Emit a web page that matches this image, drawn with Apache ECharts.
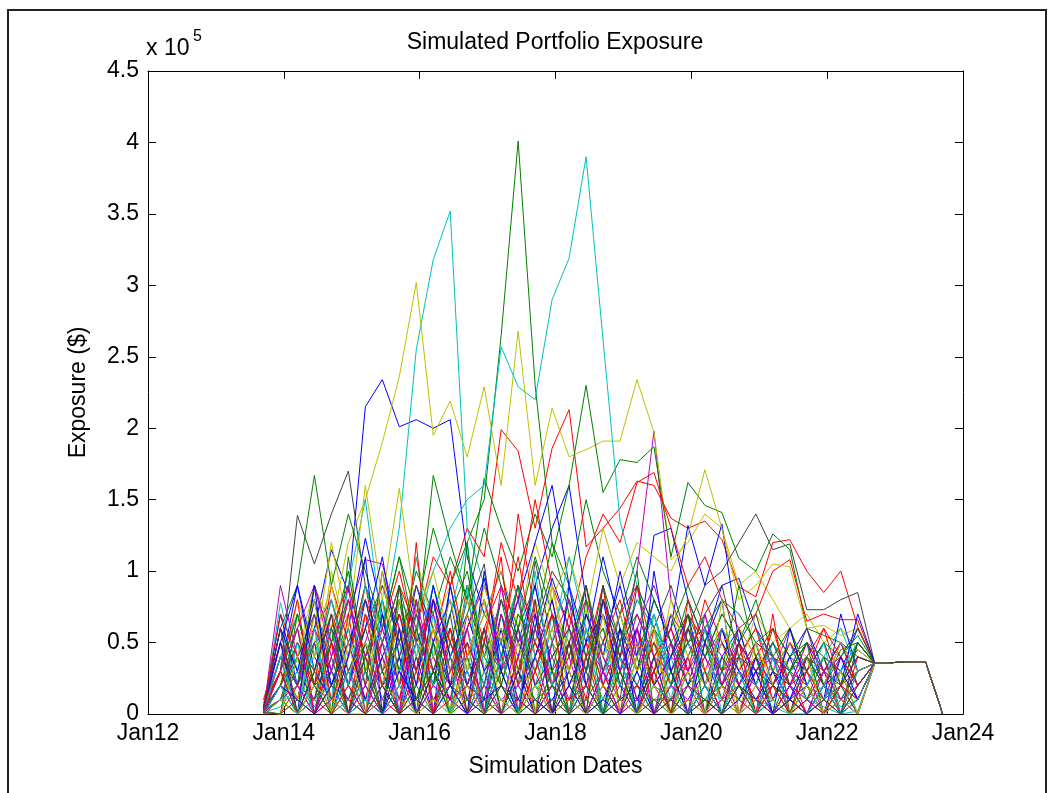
<!DOCTYPE html>
<html>
<head>
<meta charset="utf-8">
<title>Simulated Portfolio Exposure</title>
<script src="https://cdn.jsdelivr.net/npm/echarts/dist/echarts.min.js"></script>
<style>
  html, body { margin: 0; padding: 0; background: #fff; }
  #chart { width: 1052px; height: 793px; }
</style>
</head>
<body>
<div id="chart"></div>
<script>
// simulation dates as decimal years (quarterly)
const dateYears = [
  2013.70, 2013.95, 2014.20, 2014.45, 2014.70, 2014.95, 2015.20, 2015.45, 2015.70, 2015.95,
  2016.20, 2016.45, 2016.70, 2016.95, 2017.20, 2017.45, 2017.70, 2017.95, 2018.20, 2018.45,
  2018.70, 2018.95, 2019.20, 2019.45, 2019.70, 2019.95, 2020.20, 2020.45, 2020.70, 2020.95,
  2021.20, 2021.45, 2021.70, 2021.95, 2022.20, 2022.45, 2022.70, 2022.95, 2023.20, 2023.45,
  2023.70
]
const xTickYears = [2012, 2014, 2016, 2018, 2020, 2022, 2024]
const yTicks = [0, 0.5, 1, 1.5, 2, 2.5, 3, 3.5, 4, 4.5]

// exposure per scenario in units of 1e5 $ (first 36 dates)
const s01 = [0.02, 0.4, 0.1, 0.6, 1.15, 0.85, 2.15, 2.34, 2.01, 2.06, 2.0, 2.06, 1.1, 0.7, 1.0, 0.5, 0.9, 1.3, 1.6, 0.8, 0.5, 0.9, 0.4, 1.25, 1.3, 0.8, 0.5, 0.9, 0.95, 0.6, 0.4, 0.3, 0.5, 0.2, 0.3, 0.6]
const s02 = [0.03, 0.2, 0.5, 0.3, 0.8, 0.4, 0.9, 0.6, 1.1, 0.7, 1.3, 0.9, 1.2, 1.5, 2.65, 4.01, 2.3, 1.2, 0.9, 1.5, 1.0, 0.7, 1.1, 0.8, 0.5, 0.7, 0.4, 0.6, 0.3, 0.5, 0.4, 0.3, 0.5, 0.4, 0.3, 0.45]
const s03 = [0.03, 0.2, 0.5, 0.3, 0.7, 0.4, 0.8, 0.5, 0.9, 0.6, 1.1, 0.9, 1.3, 1.1, 1.99, 1.84, 1.3, 1.86, 2.13, 1.17, 1.3, 1.44, 1.63, 1.6, 1.37, 1.3, 1.35, 1.22, 0.89, 0.82, 1.2, 1.22, 1.0, 0.85, 1.0, 0.61]
const s04 = [0.02, 0.3, 0.1, 0.5, 0.2, 0.4, 0.9, 0.6, 1.3, 2.55, 3.18, 3.52, 1.3, 0.9, 0.5, 0.8, 0.3, 0.6, 0.2, 0.4, 0.1, 0.3, 0, 0.2, 0.1, 0, 0.2, 0.1, 0, 0.1, 0.05, 0, 0.1, 0.05, 0, 0.02]
const s05 = [0.01, 0.5, 0.2, 0.9, 0.4, 0.7, 1.08, 1.05, 0.6, 0.3, 0.8, 0.5, 0.2, 0.6, 0.3, 0.9, 0.5, 0.2, 0.4, 0.7, 0.3, 0.4, 1.0, 1.98, 0.8, 0.5, 0.3, 0.6, 0.2, 0.4, 0.1, 0.3, 0.2, 0.1, 0.4, 0.2]
const s06 = [0.01, 0.1, 0.4, 0.9, 0.6, 1.2, 1.5, 1.9, 2.36, 3.02, 1.95, 2.19, 1.8, 2.29, 1.6, 2.68, 1.6, 2.14, 1.8, 1.85, 1.91, 1.91, 2.34, 1.97, 1.08, 1.2, 1.4, 1.3, 0.9, 1.0, 0.8, 0.6, 0.7, 0.5, 0.6, 0.45]
const s07 = [0.02, 0.3, 1.39, 1.05, 1.4, 1.70, 0.9, 0.5, 0.8, 0.3, 0.6, 0.2, 0.4, 0.7, 0.5, 0.9, 0.6, 1.0, 0.8, 0.4, 0.6, 0.3, 0.5, 0.2, 0.4, 0.6, 0.9, 1.0, 1.2, 1.4, 1.15, 1.19, 0.73, 0.73, 0.8, 0.85]
const s08 = [0.01, 0.7, 0.2, 0.1, 0.5, 0.2, 0.8, 0.3, 0, 0.6, 0.2, 0.9, 0.4, 0.1, 0.7, 0.2, 0.5, 0.95, 0.6, 0.3, 0.8, 0.5, 0.1, 0.4, 0.6, 1.32, 0.9, 1.33, 0.5, 0.3, 0.2, 0.4, 0.1, 0.3, 0.5, 0.2]
const s09 = [0.01, 0.1, 0.3, 0.1, 0.5, 0.2, 0.6, 0.9, 0.5, 1.0, 0.7, 1.1, 0.8, 1.65, 1.3, 1.0, 1.4, 1.1, 1.6, 2.3, 1.55, 1.78, 1.76, 1.87, 1.1, 1.62, 1.46, 1.41, 1.09, 1.0, 1.26, 1.15, 0.6, 0.55, 0.5, 0.4]
const s10 = [0.05, 0.4, 0.1, 0.6, 0.3, 0.8, 0.2, 0.5, 0.1, 0.7, 0.4, 0.2, 0.9, 0.5, 1.2, 0.8, 1.5, 0.9, 0.6, 1.1, 1.4, 1.2, 1.62, 1.69, 1.3, 0.9, 1.1, 0.8, 0.6, 0.7, 1.0, 1.08, 0.65, 0.7, 0.66, 0.66]
const s11 = [0.01, 0.05, 0.2, 0.05, 0.3, 0.1, 0.5, 0.3, 0.8, 0.6, 1.0, 1.3, 1.5, 1.6, 2.57, 2.29, 2.2, 2.9, 3.19, 3.9, 2.62, 1.35, 0.9, 0.6, 0.3, 0.5, 0.2, 0.4, 0.2, 0.1, 0.3, 0.2, 0.1, 0.2, 0.05, 0.1]
const s12 = [0.02, 0.6, 0.3, 0.1, 0.7, 0.2, 0.5, 0.1, 0.4, 0.8, 0.3, 0.6, 0.1, 0.5, 0.2, 0, 0.4, 0.7, 0.3, 0.9, 0.2, 0.5, 0.1, 0.3, 0.6, 0.2, 0.4, 0.1, 0.5, 0.3, 0.2, 0.1, 0.3, 0.5, 0.2, 0.4]
const s13 = [0.01, 0.2, 0.6, 0.2, 1.0, 0.5, 0.3, 0.8, 0.4, 1.1, 0.6, 0.9, 0.4, 0.7, 1.0, 0.6, 1.2, 0.8, 1.1, 0.7, 1.3, 0.9, 1.2, 1.1, 1.0, 1.25, 1.71, 1.3, 0.8, 0.9, 1.05, 1.03, 0.6, 0.62, 0.55, 0.6]
const s14 = [0.03, 0.1, 0.5, 0.2, 0.3, 0.1, 0.4, 0.7, 0.2, 0.5, 0.1, 0.3, 0.8, 0.4, 0.6, 0.2, 1.07, 0.5, 0.3, 0.7, 0.4, 0.1, 0.9, 0.6, 0.2, 0.4, 0.7, 0.3, 0.5, 0.2, 0.6, 0.4, 0.3, 0.1, 0.2, 0.5]
const s15 = [0.05, 0.3, 0.9, 0.4, 0.2, 0.6, 1.23, 0.7, 0.3, 0.9, 0.5, 0.2, 0.6, 0.95, 0.4, 0.8, 1.2, 1.6, 0.9, 0.5, 1.1, 0.6, 0.3, 0.8, 0.5, 0.2, 0.6, 0.3, 0.1, 0.4, 0.2, 0.5, 0.3, 0.1, 0.7, 0.3]
const s16 = [0.05, 0.6, 0.9, 1.67, 0.9, 1.4, 1.0, 0.6, 1.1, 0.5, 1.67, 1.2, 0.8, 1.3, 0.9, 0.6, 1.1, 0.7, 0.5, 0.9, 0.4, 0.7, 0.3, 0.6, 0.4, 0.8, 0.5, 0.3, 0.6, 0.2, 0.5, 0.3, 0.4, 0.2, 0.45, 0.5]
const s17 = [0.1, 0.5, 0.2, 0.7, 0.1, 0.4, 0.9, 0.3, 0.6, 0.1, 0.5, 1.0, 0.4, 0.8, 0.3, 1.4, 0.7, 0.2, 0.5, 0.1, 0.8, 0.4, 0.6, 0.3, 0.7, 0.5, 0.2, 0.6, 0.3, 0.5, 0.1, 0.3, 0.4, 0.6, 0.2, 0.3]
const s18 = [0.02, 0.78, 0.3, 0.5, 0.1, 0.9, 1.5, 0.6, 0.2, 1.1, 0.4, 0.7, 1.2, 0.3, 0.8, 0.5, 0.2, 0.6, 0.9, 0.4, 0.2, 0.7, 0.3, 0.5, 0.1, 0.6, 0.3, 0.2, 0.5, 0.3, 0.4, 0.1, 0.2, 0.4, 0.3, 0.5]
const s19 = [0.02, 0.9, 0.4, 0.6, 0.8, 0.3, 0.5, 0.9, 0.6, 0.2, 0.4, 0.1, 0.7, 0.3, 0.5, 0.8, 0.2, 0.4, 0.1, 0.5, 0.3, 0.7, 0.9, 0.2, 0.4, 0.3, 0.5, 0.2, 0.6, 0.4, 0.3, 0.6, 0.2, 0.4, 0.3, 0.1]
const s20 = [0.01, 0.2, 0.8, 0.4, 1.2, 0.6, 1.6, 0.8, 1.58, 0.7, 1.0, 0.5, 0.8, 0.3, 0.6, 0.2, 0.5, 0.9, 0.4, 0.8, 0.5, 0.3, 0.7, 0.4, 0.2, 0.6, 0.3, 0.5, 0.2, 0.4, 0.6, 0.3, 0.1, 0.3, 0.4, 0.2]
const s21 = [0.02, 0.4, 0.2, 0.8, 0.3, 0.6, 0.2, 1.0, 0.5, 0.3, 0.9, 0.4, 0.7, 1.05, 0.2, 0.6, 0.9, 0.3, 0.5, 0.2, 0.7, 0.4, 0.8, 0.6, 0.9, 0.5, 0.7, 0.9, 0.4, 0.6, 0.3, 0.5, 0.2, 0.4, 0.1, 0.3]
const s22 = [0, 0.3, 0, 0.5, 0, 0.2, 0, 0.7, 0, 0.4, 0, 0.9, 0.3, 0, 0.6, 0, 0.2, 0, 0.5, 0, 0.8, 0.2, 0, 0.4, 0, 0.3, 0, 0.6, 0.2, 0, 0.4, 0, 0.2, 0, 0.3, 0]
const s23 = [0.01, 0, 0.4, 0, 0.6, 0, 0.3, 0, 0.8, 0.1, 0.5, 0, 0.4, 0, 0.7, 0.3, 0, 0.5, 0, 0.6, 0.2, 0, 0.4, 0, 0.3, 0, 0.5, 0.1, 0, 0.3, 0.2, 0, 0.1, 0.4, 0, 0.2]
const s24 = [0.04, 0.6, 0, 0.3, 0, 0.7, 0, 0.4, 0, 0.2, 0.6, 0, 0.5, 0, 0.3, 0, 0.8, 0, 0.2, 0.5, 0, 0.3, 0, 0.6, 0, 0.4, 0, 0.2, 0.5, 0, 0.1, 0.3, 0, 0.2, 0, 0.4]
const s25 = [0.01, 0, 0.5, 0, 0.3, 0.6, 0, 0.2, 0.5, 0, 0.7, 0, 0.3, 0.5, 0, 0.2, 0, 0.7, 0, 0.3, 0, 0.5, 0.2, 0, 0.4, 0, 0.3, 0, 0.2, 0.5, 0, 0.2, 0.4, 0, 0.1, 0]
const s26 = [0, 0.4, 0, 0.2, 0.5, 0, 0.3, 0, 0.6, 0, 0.2, 0.4, 0, 0.3, 0, 0.6, 0, 0.2, 0.4, 0, 0.3, 0, 0.5, 0, 0.2, 0.4, 0, 0.3, 0, 0.2, 0, 0.1, 0.3, 0, 0.2, 0.1]
const s27 = [0.02, 0.5, 0, 0.7, 0.2, 0, 0.4, 0, 0.3, 0.6, 0, 0.3, 0, 0.6, 0.2, 0, 0.4, 0, 0.6, 0, 0.2, 0, 0.3, 0.5, 0, 0.2, 0, 0.4, 0, 0.3, 0.1, 0, 0.3, 0.1, 0, 0.2]
const s28 = [0, 0.2, 0.6, 0, 0.4, 0, 0.5, 0, 0.2, 0.8, 0, 0.5, 0.2, 0, 0.4, 0, 0.6, 0.2, 0, 0.4, 0, 0.6, 0, 0.3, 0.5, 0, 0.2, 0, 0.4, 0, 0.3, 0.2, 0, 0.1, 0.3, 0]
const s29 = [0.02, 0.5, 0.9, 0.3, 0.7, 0.2, 0.6, 1.1, 0.4, 0, 0.5, 0.8, 0.2, 0.6, 0, 0.4, 0.9, 0.3, 0, 0.7, 0.4, 1.0, 0.5, 0.2, 0.7, 0.3, 0, 0.4, 0.6, 0.2, 0.1, 0.4, 0.6, 0.3, 0.2, 0.7]
const s30 = [0.03, 0.4, 0.2, 0.9, 0.5, 1.0, 0.3, 0.5, 0.9, 0.4, 0.2, 0.7, 1.0, 0.4, 0.8, 0.3, 0.6, 1.2, 0.7, 0.3, 0.9, 0.5, 0.7, 0.4, 0.6, 0.9, 0.6, 0.8, 0.7, 0.5, 0.6, 0.4, 0.5, 0.3, 0.2, 0.5]
const s31 = [0.06, 0.3, 0.7, 0.2, 0.9, 0.5, 0.1, 0.6, 1.0, 0.5, 0.3, 0.1, 0.6, 0.9, 0.5, 1.1, 0.4, 0.8, 0.3, 0.6, 0.2, 0.5, 0.9, 0.4, 0.6, 0.3, 0.8, 0.5, 0.2, 0.4, 0.6, 0.2, 0.4, 0.3, 0.5, 0.2]
const s32 = [0.03, 0.6, 0.2, 0.4, 0.8, 0.3, 0.5, 0.2, 0.7, 0.4, 0.9, 0.5, 0.3, 0.8, 0.4, 0.6, 0.3, 0.5, 1.1, 0.6, 0.3, 0.5, 0.8, 0.6, 0.2, 0.5, 0.7, 0.3, 0.4, 0.6, 0.3, 0.5, 0.2, 0.4, 0.6, 0.3]
const s33 = [0.01, 0.3, 0.6, 0.9, 0.5, 0.2, 0.7, 0.4, 0.1, 0.5, 0.8, 0.3, 0.5, 0.2, 0.7, 0.4, 0.6, 0.2, 0.5, 0.8, 0.4, 0.2, 0.6, 0.9, 0.5, 0.3, 0.6, 0.4, 0.2, 0.5, 0.4, 0.2, 0.5, 0.3, 0.4, 0.2]
const s34 = [0.02, 0.4, 0.1, 0.5, 0.9, 0.4, 0.7, 0.3, 0.6, 0.2, 0.4, 0.8, 0.3, 0.9, 0.5, 0.7, 0.3, 0.6, 0.2, 0.4, 0.6, 0.3, 0.5, 0.2, 0.8, 0.4, 0.6, 0.2, 0.3, 0.7, 0.5, 0.6, 0.3, 0.5, 0.2, 0.4]
const s35 = [0.04, 0.2, 0.4, 0.7, 0.2, 0.5, 0.8, 0.3, 0.5, 0.9, 0.6, 0.3, 0.5, 0.2, 0.8, 0.5, 0.3, 0.7, 0.4, 0.9, 0.3, 0.6, 0.4, 0.7, 0.3, 0.6, 0.4, 0.7, 0.5, 0.3, 0.5, 0.3, 0.6, 0.2, 0.4, 0.6]
const s36 = [0, 0.1, 0, 0.3, 0.1, 0, 0.2, 0, 0.4, 0, 0.3, 0.1, 0, 0.2, 0, 0.3, 0, 0.1, 0.3, 0, 0.1, 0.4, 0, 0.2, 0, 0.1, 0.3, 0, 0.2, 0.1, 0, 0.2, 0, 0.1, 0.3, 0.1]
const s37 = [0.01, 0.2, 0, 0.1, 0.3, 0, 0.1, 0.3, 0, 0.2, 0, 0.4, 0.1, 0, 0.3, 0, 0.2, 0, 0.1, 0.3, 0, 0.2, 0.1, 0, 0.3, 0, 0.1, 0.2, 0, 0.1, 0.2, 0.1, 0, 0.2, 0.1, 0.3]
const s38 = [0, 0, 0.2, 0, 0.1, 0.3, 0, 0.2, 0, 0.1, 0.3, 0, 0.2, 0.1, 0, 0.4, 0, 0.2, 0, 0.1, 0.3, 0, 0.2, 0.1, 0.1, 0.3, 0, 0.1, 0.2, 0, 0.2, 0, 0.1, 0.3, 0, 0.1]
const s39 = [0.02, 0.1, 0.3, 0, 0.2, 0, 0.3, 0.1, 0, 0.3, 0, 0.2, 0, 0.3, 0.1, 0, 0.2, 0.3, 0, 0.2, 0, 0.1, 0.3, 0, 0.2, 0, 0.1, 0.3, 0.1, 0, 0.1, 0.3, 0.1, 0, 0.2, 0]
const s40 = [0, 0.2, 0.1, 0, 0.3, 0.1, 0, 0.2, 0.3, 0, 0.1, 0.2, 0.3, 0, 0.1, 0.2, 0.4, 0, 0.2, 0, 0.3, 0.1, 0, 0.2, 0.1, 0.2, 0, 0.1, 0.3, 0.2, 0, 0.1, 0.2, 0, 0.1, 0.2]
const s41 = [0.01, 0, 0.1, 0.3, 0, 0.2, 0.1, 0, 0.2, 0.1, 0.3, 0, 0.1, 0.2, 0, 0.1, 0, 0.3, 0.2, 0, 0.1, 0.3, 0, 0.1, 0.2, 0, 0.3, 0.1, 0, 0.2, 0.1, 0, 0.2, 0.1, 0.3, 0]
const s42 = [0, 0.1, 0, 0.2, 0, 0.3, 0.1, 0, 0.2, 0, 0.3, 0, 0.2, 0.1, 0, 0.3, 0.1, 0, 0.3, 0, 0.2, 0, 0.1, 0.3, 0, 0.2, 0.1, 0, 0.3, 0, 0.2, 0.1, 0, 0.3, 0.2, 0]
const s43 = [0.03, 0.6, 0.3, 0.8, 0.2, 0.5, 0.1, 0.4, 0.7, 0.2, 0.9, 0.4, 0.7, 0.3, 0.5, 0.1, 0.4, 0.8, 0.2, 0.5, 0.7, 0.3, 0.6, 0.2, 0.4, 0.7, 0.2, 0.5, 0.3, 0.1, 0.3, 0.1, 0.4, 0.2, 0.5, 0.3]
const s44 = [0.02, 0.3, 0.7, 0.2, 0.5, 0.8, 0.4, 0.8, 0.3, 0.6, 0.2, 0.5, 0.9, 0.4, 0.2, 0.7, 0.5, 0.3, 0.8, 0.4, 0.6, 0.2, 0.4, 0.8, 0.5, 0.2, 0.4, 0.7, 0.5, 0.8, 0.4, 0.6, 0.3, 0.5, 0.4, 0.55]
const s45 = [0.05, 0.7, 0.4, 0.2, 0.6, 0.9, 0.4, 0.2, 0.7, 0.3, 0.8, 0.5, 0.2, 0.6, 0.9, 0.3, 0.5, 0.2, 0.7, 0.3, 0.5, 0.8, 0.3, 0.5, 0.2, 0.7, 0.5, 0.3, 0.4, 0.6, 0.2, 0.5, 0.3, 0.6, 0.4, 0.2]
const s46 = [0.02, 0.4, 0.7, 0.3, 0.6, 0.2, 0.9, 0.5, 0.3, 0.7, 0.2, 0.4, 0.6, 0.2, 0.5, 0.9, 0.4, 0.2, 0.6, 0.3, 0.5, 0.2, 0.4, 0.7, 0.3, 0.5, 0.2, 0.6, 0.4, 0.2, 0.5, 0.3, 0.4, 0.1, 0.3, 0.5]
const s47 = [0.03, 0.5, 0.2, 0.6, 0.3, 0.8, 0.4, 0.6, 0.2, 0.5, 0.7, 0.3, 0.4, 0.8, 0.3, 0.5, 0.7, 0.4, 0.6, 0.2, 0.5, 0.3, 0.7, 0.4, 0.3, 0.6, 0.4, 0.2, 0.5, 0.3, 0.4, 0.2, 0.5, 0.3, 0.2, 0.4]
const s48 = [0.02, 0.3, 0.6, 0.4, 0.7, 0.3, 0.5, 0.2, 0.8, 0.4, 0.6, 0.3, 0.7, 0.4, 0.6, 0.3, 0.8, 0.5, 0.3, 0.6, 0.4, 0.7, 0.3, 0.5, 0.7, 0.4, 0.2, 0.5, 0.6, 0.4, 0.3, 0.5, 0.4, 0.2, 0.5, 0.3]
const s49 = [0.01, 0.4, 0.2, 0.5, 0.6, 0.3, 0.6, 0.2, 0.4, 0.7, 0.3, 0.6, 0.2, 0.5, 0.3, 0.6, 0.2, 0.4, 0.6, 0.3, 0.8, 0.4, 0.2, 0.5, 0.3, 0.5, 0.6, 0.2, 0.4, 0.3, 0.5, 0.2, 0.3, 0.5, 0.2, 0.4]
const s50 = [0.04, 0.5, 0, 0.9, 0, 0.4, 1.1, 0, 0.6, 0, 0.8, 0.2, 0, 1.0, 0.3, 0, 0.7, 0, 0.9, 0.2, 0, 0.6, 0, 1.0, 0.3, 0, 0.5, 0.8, 0, 0.4, 0, 0.6, 0.2, 0, 0.4, 0.1]
const s51 = [0.02, 0, 0.7, 0.2, 0, 1.1, 0.3, 0, 0.9, 0, 0.5, 0, 1.2, 0, 0.4, 0.9, 0, 0.3, 0, 0.8, 0, 0.5, 1.0, 0, 0.2, 0.7, 0, 0.3, 0.9, 0.4, 0, 0.3, 0.5, 0, 0.2, 0.5]
const s52 = [0.08, 0.3, 0.8, 0, 0.5, 0, 0.7, 0.2, 0, 1.2, 0, 0.6, 0, 0.5, 1.1, 0, 0.3, 0.7, 0, 0.4, 0.9, 0, 0.6, 0.2, 0, 0.8, 0.3, 0, 0.5, 0, 0.7, 0, 0.3, 0.1, 0, 0.3]
const s53 = [0.01, 0.4, 0, 0.6, 0, 0.3, 0, 0.8, 0, 0.5, 0.2, 0, 0.9, 0, 0.4, 0, 1.0, 0.2, 0, 0.6, 0, 0.4, 0, 0.7, 0.2, 0, 0.6, 0, 0.3, 0, 0.4, 0, 0.2, 0.5, 0, 0.3]
const s54 = [0.02, 0.3, 0.6, 0, 0.4, 0.9, 0, 0.5, 0, 0.8, 0, 0.3, 0.6, 0, 0.9, 0.2, 0, 0.5, 0.8, 0, 0.3, 0, 0.6, 0, 0.5, 0, 0.7, 0.2, 0, 0.3, 0, 0.2, 0, 0.3, 0.1, 0]
const s55 = [0.01, 0, 0.4, 0.8, 0, 0.5, 0, 1.0, 0.2, 0, 0.6, 0, 0.4, 0.8, 0, 0.5, 0, 0.9, 0.3, 0, 0.7, 0, 0.4, 0.6, 0, 0.3, 0, 0.8, 0, 0.5, 0.2, 0, 0.4, 0, 0.3, 0]
const s56 = [0.03, 0.6, 0, 0.3, 0.7, 0, 0.4, 0, 0.9, 0, 0.3, 0.7, 0, 0.6, 0, 0.3, 0.8, 0, 0.5, 0, 0.9, 0.3, 0, 0.4, 0, 0.6, 0.2, 0, 0.5, 0.7, 0.3, 0, 0.4, 0.2, 0, 0.5]
const s57 = [0, 0.2, 0.1, 0, 0.2, 0, 0.1, 0, 0.3, 0.1, 0, 0.2, 0, 0.1, 0.2, 0, 0.1, 0, 0.2, 0, 0.1, 0, 0.3, 0, 0.1, 0, 0.2, 0, 0.1, 0.3, 0, 0.1, 0, 0.2, 0, 0.1]
const s58 = [0.01, 0.1, 0, 0.2, 0, 0.1, 0, 0.2, 0, 0.1, 0.3, 0, 0.1, 0, 0.2, 0, 0.1, 0.2, 0, 0.1, 0, 0.3, 0, 0.1, 0, 0.2, 0.1, 0, 0.2, 0, 0.1, 0, 0.2, 0, 0.1, 0]
const s59 = [0.02, 0.3, 0, 0.1, 0, 0.2, 0, 0.1, 0, 0.3, 0, 0.1, 0.2, 0, 0.1, 0, 0.3, 0, 0.1, 0.2, 0, 0.1, 0, 0.3, 0, 0.1, 0, 0.2, 0.1, 0, 0.2, 0, 0.1, 0, 0.2, 0.1]
const s60 = [0, 0.2, 0, 0.1, 0.2, 0, 0.1, 0, 0.2, 0, 0.1, 0, 0.3, 0, 0.1, 0, 0.2, 0.1, 0, 0.2, 0, 0.1, 0, 0.2, 0.1, 0, 0.2, 0, 0.3, 0, 0.1, 0, 0, 0.2, 0, 0.1]
const s61 = [0.01, 0.1, 0.2, 0, 0.1, 0, 0.2, 0, 0.1, 0, 0.2, 0.1, 0, 0.2, 0, 0.1, 0, 0.2, 0.1, 0, 0.2, 0, 0.1, 0, 0.2, 0.1, 0, 0.2, 0, 0.1, 0, 0.2, 0.1, 0, 0.1, 0]
const s62 = [0, 0.1, 0, 0.2, 0.1, 0, 0, 0.2, 0.1, 0, 0.1, 0, 0.2, 0, 0.1, 0, 0.2, 0, 0.1, 0, 0.2, 0.1, 0, 0.2, 0, 0.1, 0, 0.2, 0, 0.1, 0.1, 0, 0.2, 0, 0.1, 0]
const s63 = [0.01, 0, 0.1, 0, 0.2, 0.1, 0, 0.2, 0, 0.1, 0, 0.2, 0.1, 0, 0.2, 0.1, 0, 0.1, 0, 0.2, 0, 0.1, 0.2, 0, 0.1, 0, 0.1, 0, 0.2, 0.1, 0, 0.1, 0, 0.1, 0, 0.2]

// all paths settle to the same value for the last dates
const settleTail = [0.355, 0.36, 0.362, 0.365, 0]

const paths = [
  s01, s02, s03, s04, s05, s06, s07, s08, s09, s10, s11, s12, s13, s14,
  s15, s16, s17, s18, s19, s20, s21, s22, s23, s24, s25, s26, s27, s28,
  s29, s30, s31, s32, s33, s34, s35, s36, s37, s38, s39, s40, s41, s42,
  s43, s44, s45, s46, s47, s48, s49, s50, s51, s52, s53, s54, s55, s56,
  s57, s58, s59, s60, s61, s62, s63
]

// matlab style colour order b g r c m y k
const colorOrder = ['#0000ff', '#008000', '#ff0000', '#00bfbf', '#bf00bf', '#bfbf00', '#404040']

const font = 'Liberation Sans, Arial, Helvetica, sans-serif'
const fontSize = 23

const chart = echarts.init(document.getElementById('chart'))

const series = paths.map((p, k) => ({
  type: 'line',
  xAxisIndex: 0,
  yAxisIndex: 0,
  symbol: 'none',
  silent: true,
  lineStyle: { width: 1, color: colorOrder[k % colorOrder.length] },
  data: p.concat(settleTail).map((v, i) => [dateYears[i], v])
}))

const axisLine = { show: true, onZero: false, lineStyle: { color: '#000', width: 1 } }
const tick = { show: true, inside: true, length: 8, lineStyle: { color: '#000' } }

chart.setOption({
  animation: false,
  backgroundColor: '#fff',
  grid: { left: 148, right: 89, top: 71, bottom: 79 },
  xAxis: [
    {
      type: 'value',
      position: 'bottom',
      min: xTickYears[0],
      max: xTickYears[xTickYears.length - 1],
      interval: 2,
      axisLine: axisLine,
      axisTick: tick,
      splitLine: { show: false },
      axisLabel: {
        color: '#000',
        fontFamily: font,
        fontSize: fontSize,
        margin: 8,
        formatter: v => 'Jan' + String(Math.round(v)).slice(2)
      },
      name: 'Simulation Dates',
      nameLocation: 'middle',
      nameGap: 41,
      nameTextStyle: { color: '#000', fontFamily: font, fontSize: fontSize }
    },
    {
      type: 'value',
      position: 'top',
      min: xTickYears[0],
      max: xTickYears[xTickYears.length - 1],
      interval: 2,
      axisLine: axisLine,
      axisTick: tick,
      axisLabel: { show: false },
      splitLine: { show: false }
    }
  ],
  yAxis: [
    {
      type: 'value',
      position: 'left',
      min: yTicks[0],
      max: yTicks[yTicks.length - 1],
      interval: 0.5,
      axisLine: axisLine,
      axisTick: tick,
      splitLine: { show: false },
      axisLabel: { color: '#000', fontFamily: font, fontSize: fontSize, margin: 9 },
      name: 'Exposure ($)',
      nameLocation: 'middle',
      nameGap: 58,
      nameRotate: 90,
      nameTextStyle: { color: '#000', fontFamily: font, fontSize: fontSize }
    },
    {
      type: 'value',
      position: 'right',
      min: yTicks[0],
      max: yTicks[yTicks.length - 1],
      interval: 0.5,
      axisLine: axisLine,
      axisTick: tick,
      axisLabel: { show: false },
      splitLine: { show: false }
    }
  ],
  graphic: [
    {
      type: 'rect',
      shape: { x: 8, y: 10, width: 1038, height: 800 },
      style: { fill: 'none', stroke: '#222', lineWidth: 2 },
      silent: true
    },
    {
      type: 'text',
      x: 555,
      y: 43,
      style: {
        text: 'Simulated Portfolio Exposure',
        fill: '#000',
        font: fontSize + 'px ' + font,
        textAlign: 'center',
        textVerticalAlign: 'middle'
      }
    },
    {
      type: 'text',
      x: 146,
      y: 49,
      style: { text: 'x 10', fill: '#000', font: fontSize + 'px ' + font, textVerticalAlign: 'middle' }
    },
    {
      type: 'text',
      x: 193,
      y: 37,
      style: { text: '5', fill: '#000', font: '16px ' + font, textVerticalAlign: 'middle' }
    }
  ],
  series: series
})
</script>
</body>
</html>
